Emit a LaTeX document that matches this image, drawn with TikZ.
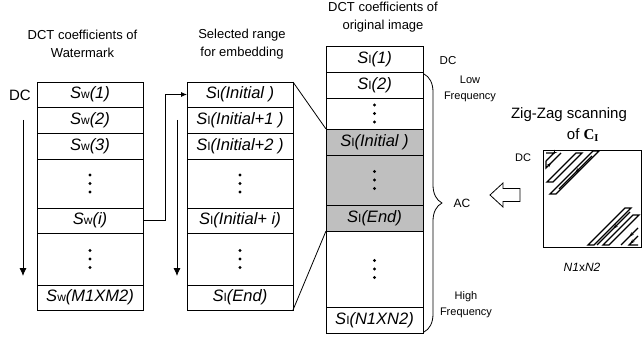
\documentclass[tikz,border=0pt]{standalone}
\usepackage{fontspec}
\setmainfont{Liberation Sans}
\newfontfamily\boldserif{Liberation Serif}
\usetikzlibrary{positioning,arrows.meta,decorations.pathreplacing,decorations.markings}

\newcommand{\Sw}[1]{\textit{S}{\fontsize{12}{12}\selectfont w}\textit{(#1)}}
\newcommand{\Si}[1]{\textit{S}{\fontsize{12}{12}\selectfont I}\textit{(#1)}}

\tikzset{
  cell/.style={draw, line width=0.8pt, inner sep=0pt, outer sep=0pt, minimum height=26pt, font=\fontsize{16.5}{17}\selectfont},
  wcell/.style={cell, minimum width=106pt},
  icell/.style={cell, minimum width=97pt},
  shade/.style={fill=black!25},
  title/.style={align=center, font=\fontsize{13}{18}\selectfont},
  freqlabel/.style={align=center, font=\fontsize{11}{16}\selectfont},
  strip/.style={line width=1.3pt},
  zz/.style={line width=1.2pt, postaction={decorate}, decoration={markings,
      mark=at position 0.5 with {\arrow{Stealth[length=4.5pt]}}}},
}

\begin{document}
\begin{tikzpicture}[x=1pt, y=-1pt, line width=0.8pt]
\useasboundingbox (0,0) rectangle (642,339);

% watermark coefficients
\node[title] (t1) at (82.5,44) {DCT coefficients of\\Watermark};
\node[wcell, minimum height=25pt] (w1) at (90,94.5) {\Sw{1}};
\node[wcell, below=0pt of w1] (w2) {\Sw{2}};
\node[wcell, below=0pt of w2] (w3) {\Sw{3}};
\node[wcell, minimum height=49pt, below=0pt of w3] (w4) {};
\node[wcell, minimum height=25pt, below=0pt of w4] (wi) {\Sw{i}};
\node[wcell, minimum height=52pt, below=0pt of wi] (w5) {};
\node[wcell, minimum height=25pt, below=0pt of w5] (wn) {\Sw{M1XM2}};
\node[font=\fontsize{15}{15}\selectfont] (dcw) at (20,95) {DC};

% selected range
\node[title] (t2) at (242,44.5) {Selected range\\for embedding};
\node[wcell, minimum height=25pt] (v1) at (240,94.5) {\Si{Initial~}};
\node[wcell, below=0pt of v1] (v2) {\Si{Initial+1~}};
\node[wcell, below=0pt of v2] (v3) {\Si{Initial+2~}};
\node[wcell, minimum height=49pt, below=0pt of v3] (v4) {};
\node[wcell, minimum height=25pt, below=0pt of v4] (vi) {\Si{Initial+~i}};
\node[wcell, minimum height=52pt, below=0pt of vi] (v5) {};
\node[wcell, minimum height=25pt, below=0pt of v5] (vn) {\Si{End}};

% original image coefficients
\node[title] (t3) at (383,17.5) {DCT coefficients of\\original image};
\node[icell] (s1) at (374.5,59) {\Si{1}};
\node[icell, below=0pt of s1] (s2) {\Si{2}};
\node[icell, minimum height=31pt, below=0pt of s2] (s3) {};
\node[icell, shade, below=0pt of s3] (s4) {\Si{Initial~}};
\node[icell, shade, minimum height=50pt, below=0pt of s4] (s5) {};
\node[icell, shade, below=0pt of s5] (s6) {\Si{End}};
\node[icell, minimum height=76pt, below=0pt of s6] (s7) {};
\node[icell, below=0pt of s7] (s8) {\Si{N1XN2}};

% three dots in the skipped cells
\foreach \c in {w4,w5,v4,v5,s3,s5,s7}
  \foreach \d in {-8.5,0,8.5}
    \fill ([yshift=\d pt]\c.center) circle (1.7pt);

\node[font=\fontsize{11.5}{11.5}\selectfont] (dcs) at (448,61) {DC};
\node[freqlabel] (low) at (470,89) {Low\\Frequency};
\node[freqlabel] (high) at (466,305) {High\\Frequency};
\node[font=\fontsize{12}{12}\selectfont] (ac) at (462,203) {AC};
\draw[decorate, decoration={brace, amplitude=18pt}] (424,74) -- (424,332);

% scanning direction
\coordinate (wtop) at (23,120);
\coordinate (wbot) at (23,276);
\coordinate (vtop) at (177,120);
\coordinate (vbot) at (177,276);
\draw[-{Latex[length=8pt,width=7pt]}] (wtop) -- (wbot);
\draw[-{Latex[length=8pt,width=7pt]}] (vtop) -- (vbot);

% mapping between columns
\draw[-{Latex[length=6pt,width=5pt]}] (wi.east) -- ++(22,0) |- (v1.west);
\draw (v1.north east) -- (s4.north west);
\draw (vn.south east) -- (s6.south west);

% zig-zag block
\node[font=\fontsize{15}{15}\selectfont] (zzt) at (569,115) {Zig-Zag scanning};
\node[font=\fontsize{15}{15}\selectfont] (zzof) at (583,135) {of {\boldserif\bfseries C\textsubscript{I}}};
\node[draw, inner sep=0pt, outer sep=0pt, minimum width=98pt, minimum height=97pt] (block) at (592,198.5) {};
\node[font=\fontsize{11}{11}\selectfont] (dcb) at (523,158) {DC};
\node[font=\fontsize{12}{12}\selectfont] (nn) at (582,267) {\textit{N1}x\textit{N2}};
% low frequency corner
\draw[zz] (546,153) -- (554,153) -- (546,161);
\draw[zz] (546,161) -- (546,168) -- (561,153);
\foreach \xb/\yb/\l in {547/182/29, 550/194/43}
  \draw[strip] (\xb,\yb) -- ++(\l,-\l) -- ++(6,0) -- ++(-\l,\l) -- cycle;
\draw[zz] (592,156) -- (559,189);
% high frequency corner
\foreach \xb/\yb/\l in {588/245/37, 603/245/30}
  \draw[strip] (\xb,\yb) -- ++(\l,-\l) -- ++(6,0) -- ++(-\l,\l) -- cycle;
\draw[zz] (630,212) -- (597,245);
\draw[zz] (638,228) -- (621,245);
\draw[zz] (638,236) -- (629,245) -- (638,245);

% pointer from the scan to the coefficient list
\draw (490,195) -- (503,183) -- (503,188.5) -- (520,188.5) -- (520,201.5)
  -- (503,201.5) -- (503,207) -- cycle;

\end{tikzpicture}
\end{document}
